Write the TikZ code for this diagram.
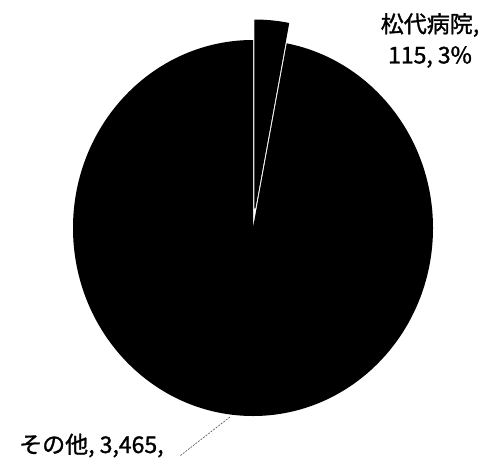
\documentclass[tikz,border=0pt]{standalone}
\usepackage{fontspec}
\setmainfont{Noto Sans CJK JP}
\newfontfamily\labelfont{Noto Sans CJK JP}[FakeBold=1.3]
\usetikzlibrary{
  positioning,
  calc
}
\tikzset{
  pielabel/.style={
    inner sep=0pt,
    font=\labelfont\fontsize{23}{27}\selectfont
  },
  leader/.style={
    black!70,
    line width=0.6pt,
    dash pattern=on 2pt off 1.2pt
  }
}

\begin{document}
\begin{tikzpicture}[x=1pt, y=1pt]
    \useasboundingbox (0,0) rectangle (486,459);

    \coordinate (centre) at (253,231);
    \coordinate (tip) at ($(centre)+(84.6:20)$);

    % the other hospitals, 97%
    \fill[black] (centre) -- ++(0,188)
    arc[start angle=90, end angle=439.2, x radius=180, y radius=188]
    -- cycle;

    % Matsushiro hospital, pulled out
    \filldraw[black, line width=1.1pt, line join=round] (tip) -- ++(0,188)
    arc[start angle=90, end angle=79.2, x radius=180, y radius=188]
    -- cycle;

    \node[pielabel] (hosp1) at (430,434) {松代病院,};
    \node[pielabel, below=9pt of hosp1] (hosp2) {115, 3\%};

    \node[pielabel, anchor=base west] (other) at (19,6) {その他, 3,465,};

    \coordinate (rim) at (230,42);
    \coordinate (lead) at ($(other.base east)+(16,-3)$);
    \draw[leader] (rim) -- (lead);
\end{tikzpicture}
\end{document}
